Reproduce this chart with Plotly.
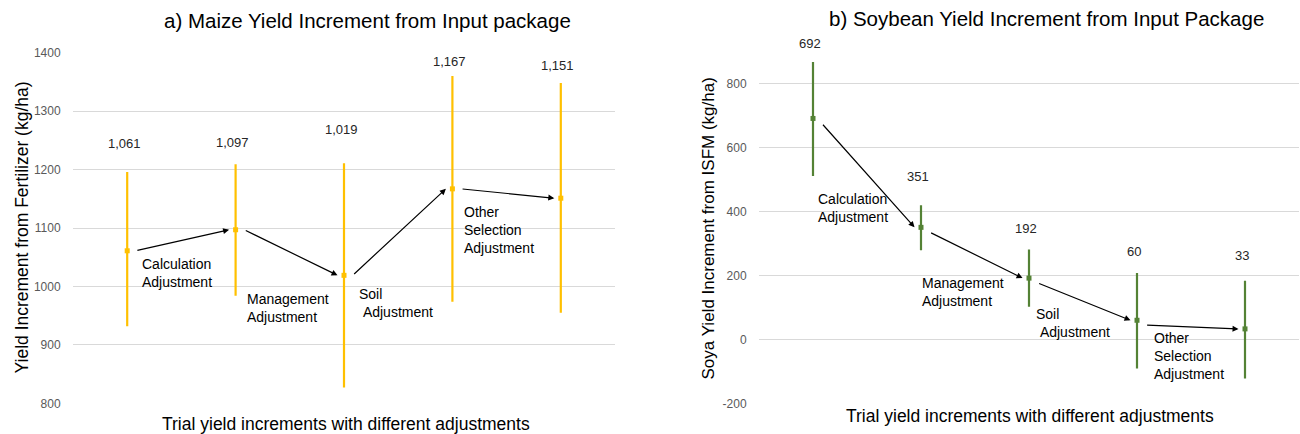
import plotly.graph_objects as go

# ---------------- data ----------------
steps = ["Baseline", "Calculation Adjustment", "Management Adjustment",
         "Soil Adjustment", "Other Selection Adjustment"]
adjust_notes = ["Calculation<br>Adjustment", "Management<br>Adjustment",
                "Soil<br>\u00a0Adjustment", "Other<br>Selection<br>Adjustment"]

maize_mean = [1061, 1097, 1019, 1167, 1151]
maize_upper = [1196, 1209, 1211, 1360, 1348]
maize_lower = [932, 984, 827, 974, 955]

soy_mean = [692, 351, 192, 60, 33]
soy_upper = [869, 420, 282, 208, 184]
soy_lower = [512, 279, 102, -91, -122]

maize_ticks = [800, 900, 1000, 1100, 1200, 1300, 1400]
soy_ticks = [-200, 0, 200, 400, 600, 800]

# ---------------- style / layout ----------------
W, H = 1300, 434
FONT = "Arial, Liberation Sans, sans-serif"
YELLOW = "#FFC000"
GREEN = "#548235"
GRID = "#D9D9D9"

def px_x(p):
    return p / W

def px_y(p):
    return 1 - p / H

x_pos = list(range(len(steps)))

fig = go.Figure()

def add_series(mean, upper, lower, color, xa, ya):
    fig.add_trace(go.Scatter(
        x=x_pos, y=mean, mode="markers", xaxis=xa, yaxis=ya,
        marker=dict(symbol="square", size=5, color=color),
        error_y=dict(type="data", symmetric=False,
                     array=[u - m for u, m in zip(upper, mean)],
                     arrayminus=[m - l for m, l in zip(mean, lower)],
                     color=color, thickness=2.2, width=0),
        showlegend=False, hoverinfo="skip", cliponaxis=False,
    ))

add_series(maize_mean, maize_upper, maize_lower, YELLOW, "x", "y")
add_series(soy_mean, soy_upper, soy_lower, GREEN, "x2", "y2")

ann = []

# value labels above error bars (pixel lift above the bar top)
maize_lift = [28, 22, 34, 15, 18]
soy_lift = [18, 29, 21, 22, 25]
for xs, ys, vals, lifts, xr, yr in [
        (x_pos, maize_upper, maize_mean, maize_lift, "x", "y"),
        (x_pos, soy_upper, soy_mean, soy_lift, "x2", "y2")]:
    for xi, top, v, lift in zip(xs, ys, vals, lifts):
        ann.append(dict(x=xi, y=top, xref=xr, yref=yr, text=f"{v:,}",
                        showarrow=False, xanchor="center", yanchor="middle",
                        yshift=lift, xshift=-3,
                        font=dict(family=FONT, size=13, color="#262626")))

# arrows between successive points
for mean, xr, yr, tail_off in [(maize_mean, "x", "y", 0), (soy_mean, "x2", "y2", -15)]:
    for i in range(len(mean) - 1):
        ann.append(dict(x=x_pos[i + 1] - 0.06, y=mean[i + 1],
                        ax=x_pos[i] + 0.08, ay=mean[i] + tail_off,
                        xref=xr, yref=yr, axref=xr, ayref=yr, text="",
                        showarrow=True, arrowhead=2, arrowsize=1,
                        arrowwidth=1.2, arrowcolor="#000000", standoff=0,
                        startstandoff=0))

# adjustment notes
maize_note_pos = [(0.12, 1023), (1.087, 963), (2.124, 972), (3.093, 1097)]
soy_note_pos = [(0.03, 411), (0.99, 150), (2.05, 53), (3.14, -51)]
for notes_pos, xr, yr in [(maize_note_pos, "x", "y"), (soy_note_pos, "x2", "y2")]:
    for (nx, ny), txt in zip(notes_pos, adjust_notes):
        ann.append(dict(x=nx, y=ny, xref=xr, yref=yr, text=txt,
                        showarrow=False, xanchor="left", yanchor="middle",
                        align="left",
                        font=dict(family=FONT, size=14, color="#000000")))

# titles
ann.append(dict(x=px_x(367.5), y=px_y(20), xref="paper", yref="paper",
                text="a) Maize Yield Increment from Input package",
                showarrow=False, xanchor="center", yanchor="middle",
                font=dict(family=FONT, size=20.5, color="#000000")))
ann.append(dict(x=px_x(1046.3), y=px_y(19), xref="paper", yref="paper",
                text="b) Soybean Yield Increment from Input Package",
                showarrow=False, xanchor="center", yanchor="middle",
                font=dict(family=FONT, size=20.5, color="#000000")))
# axis titles
ann.append(dict(x=px_x(345.5), y=px_y(424), xref="paper", yref="paper",
                text="Trial yield increments with different adjustments",
                showarrow=False, xanchor="center", yanchor="middle",
                font=dict(family=FONT, size=17.5, color="#000000")))
ann.append(dict(x=px_x(1030), y=px_y(416), xref="paper", yref="paper",
                text="Trial yield increments with different adjustments",
                showarrow=False, xanchor="center", yanchor="middle",
                font=dict(family=FONT, size=17.5, color="#000000")))
ann.append(dict(x=px_x(21), y=px_y(227.5), xref="paper", yref="paper",
                text="Yield Increment from Fertilizer (kg/ha)", textangle=-90,
                showarrow=False, xanchor="center", yanchor="middle",
                font=dict(family=FONT, size=17.5, color="#000000")))
ann.append(dict(x=px_x(708), y=px_y(228.5), xref="paper", yref="paper",
                text="Soya Yield Increment from ISFM (kg/ha)", textangle=-90,
                showarrow=False, xanchor="center", yanchor="middle",
                font=dict(family=FONT, size=17, color="#000000")))

xaxis_common = dict(range=[-0.5, 4.5], showgrid=False, zeroline=False,
                    showticklabels=False, showline=False, ticks="",
                    fixedrange=True, automargin=False)
yaxis_common = dict(showgrid=True, gridcolor=GRID, gridwidth=1, zeroline=False,
                    showline=False, ticks="outside", ticklen=9,
                    tickcolor="rgba(0,0,0,0)", fixedrange=True, automargin=False,
                    tickfont=dict(family=FONT, size=12, color="#595959"))

fig.update_layout(
    width=W, height=H, autosize=False,
    margin=dict(l=0, r=0, t=0, b=0, pad=0, autoexpand=False),
    paper_bgcolor="white", plot_bgcolor="white",
    xaxis=dict(domain=[px_x(73), px_x(615)], anchor="y", **xaxis_common),
    yaxis=dict(domain=[px_y(403.3), px_y(52.7)], anchor="x",
               range=[800, 1400], tickvals=maize_ticks,
               ticktext=[str(t) for t in maize_ticks], **yaxis_common),
    xaxis2=dict(domain=[px_x(759), px_x(1299)], anchor="y2", **xaxis_common),
    yaxis2=dict(domain=[px_y(403.3), px_y(20.1)], anchor="x2",
                range=[-200, 1000], tickvals=soy_ticks,
                ticktext=[str(t) for t in soy_ticks], **yaxis_common),
    annotations=ann,
    hovermode=False,
)

page_fix = (
    "document.documentElement.style.margin='0';"
    "document.documentElement.style.overflow='hidden';"
    "document.body.style.margin='0';"
    "document.body.style.padding='0';"
    "document.body.style.overflow='hidden';"
)

fig.write_html("out.html", config={"displayModeBar": False},
               post_script=page_fix)
